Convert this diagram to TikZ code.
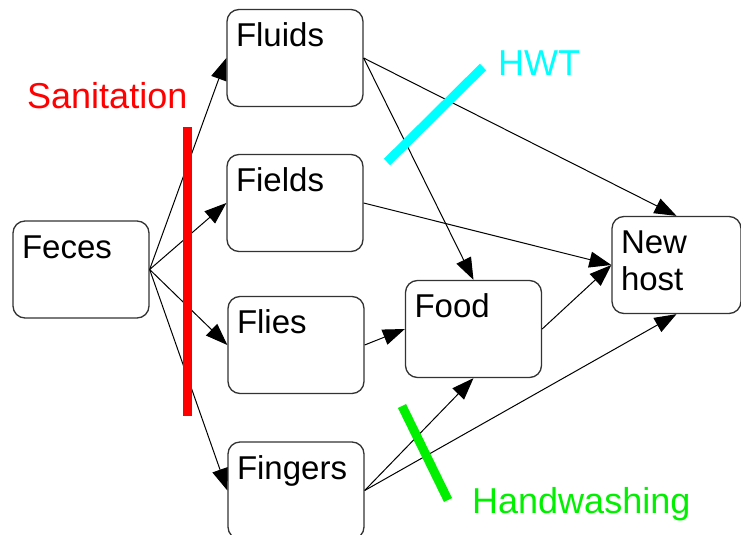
\documentclass[tikz,border=0pt]{standalone}
\usepackage{fontspec}
\setmainfont{Liberation Sans}
\usepackage{tikz}
\usetikzlibrary{arrows.meta}
\definecolor{sanred}{RGB}{255, 0, 0}
\definecolor{hwtcyan}{RGB}{0, 255, 255}
\definecolor{washgreen}{RGB}{0, 240, 0}
\definecolor{boxline}{gray}{0.20}

\begin{document}
\begin{tikzpicture}[x=1pt, y=-1pt,
	stage/.style={draw=boxline, line width=1.3pt, fill=white, rounded corners=12pt,
		inner xsep=9pt, inner ysep=4pt, text width=118pt, text height=33pt, text depth=56pt,
		align=left, font=\fontsize{33pt}{37pt}\selectfont},
	flow/.style={draw=black, line width=1pt, -{Triangle[length=22pt, width=16pt]}},
	barrier/.style={line width=9pt},
	tag/.style={inner sep=0pt, anchor=base west, font=\fontsize{36pt}{40pt}\selectfont}]
	\useasboundingbox (0,0) rectangle (741,535);

	% Transmission stages
	\node[stage] (feces)   at (81,    269.5) {Feces};
	\node[stage] (fluids)  at (295,   58)    {Fluids};
	\node[stage] (fields)  at (295,   203)   {Fields};
	\node[stage] (flies)   at (296,   345)   {Flies};
	\node[stage] (fingers) at (296,   490.5) {Fingers};
	\node[stage] (food)    at (473.5, 329)   {Food};
	\node[stage, text width=111pt] (host) at (676.5, 265) {New\\host};

	% Routes out of the feces
	\draw[flow] (feces.east) -- (fluids.west);
	\draw[flow] (feces.east) -- (fields.west);
	\draw[flow] (feces.east) -- (flies.west);
	\draw[flow] (feces.east) -- (fingers.west);

	% Routes to the new host
	\draw[flow] (fluids.east)  -- (host.north);
	\draw[flow] (fluids.east)  -- (food.north);
	\draw[flow] (fields.east)  -- (host.west);
	\draw[flow] (flies.east)   -- (food.west);
	\draw[flow] (food.east)    -- (host.west);
	\draw[flow] (fingers.east) -- (food.south);
	\draw[flow] (fingers.east) -- (host.south);

	% Barriers
	\draw[barrier, sanred]    (187, 127)   -- (187, 416);
	\draw[barrier, hwtcyan]   (387, 162)   -- (483, 67);
	\draw[barrier, washgreen] (402, 406)   -- (448, 500);

	\node[tag, text=sanred]    (sanlabel)  at (27, 108)  {Sanitation};
	\node[tag, text=hwtcyan]   (hwtlabel)  at (498, 75)  {HWT};
	\node[tag, text=washgreen] (washlabel) at (472, 513) {Handwashing};
\end{tikzpicture}
\end{document}
